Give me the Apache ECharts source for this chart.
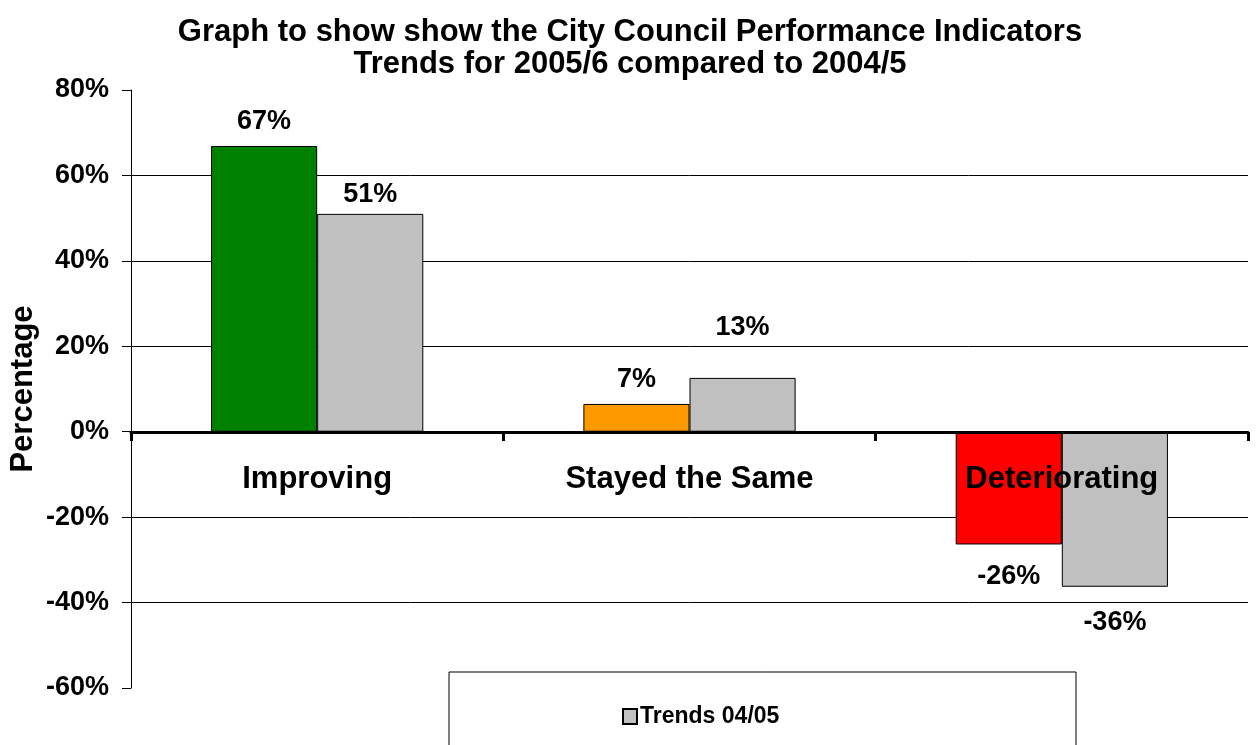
<!DOCTYPE html>
<html>
<head>
<meta charset="utf-8">
<title>City Council Performance Indicators</title>
<script src="https://cdn.jsdelivr.net/npm/echarts@6/dist/echarts.min.js"></script>
<style>
  html, body { margin: 0; padding: 0; background: #fff; }
  #chart { width: 1260px; height: 745px; }
</style>
</head>
<body>
<div id="chart"></div>
<script>
// data (percent)
const categories = ['Improving', 'Stayed the Same', 'Deteriorating'];
const trends0506 = [66.9, 6.5, -26.4];
const trends0405 = [51.0, 12.6, -36.3];
const yTicks = { min: -60, max: 80, interval: 20 };

// bar colours for the 05/06 series, one per category
const colours0506 = ['#008000', '#FF9900', '#FF0000'];
// how far each value label sits from its bar end (Excel labels were nudged by hand)
const gap0506 = [11, 11, 19];
const gap0405 = [6, 37, 22];

const font = 'Arial, "Liberation Sans", sans-serif';
const chart = echarts.init(document.getElementById('chart'));

function makeData(values, gaps, colours) {
  return values.map((v, i) => {
    const item = {
      value: v,
      label: { position: v < 0 ? 'bottom' : 'top', distance: gaps[i] }
    };
    if (colours) item.itemStyle = { color: colours[i] };
    return item;
  });
}

const valueLabel = {
  show: true,
  formatter: p => Math.round(p.value) + '%',
  fontFamily: font,
  fontWeight: 'bold',
  fontSize: 27,
  color: '#000'
};

const option = {
  backgroundColor: '#fff',
  animation: false,
  title: {
    text: 'Graph to show show the City Council Performance Indicators\nTrends for 2005/6 compared to 2004/5',
    left: 'center',
    top: 16,
    padding: 0,
    textStyle: {
      fontFamily: font,
      fontWeight: 'bold',
      fontSize: 31,
      lineHeight: 32,
      color: '#000'
    }
  },
  grid: { left: 131, right: 12, top: 90, bottom: 57, outerBoundsMode: 'none' },
  // legend frame, cut off by the bottom edge like the original
  graphic: [{
    type: 'rect',
    shape: { x: 449, y: 672, width: 627, height: 120 },
    style: { fill: '#fff', stroke: '#000', lineWidth: 1 },
    z: 10
  }],
  legend: {
    data: ['Trends 04/05'],
    left: 617,
    top: 700,
    icon: 'rect',
    itemWidth: 14,
    itemHeight: 15,
    itemGap: 10,
    z: 11,
    textStyle: { fontFamily: font, fontWeight: 'bold', fontSize: 23, color: '#000', padding: [0, 0, 0, -2] }
  },
  xAxis: {
    type: 'category',
    data: categories,
    z: 5,
    // the category axis sits on the 0% line; move it up from the grid bottom
    offset: -256,
    axisLine: { onZero: false, lineStyle: { color: '#000', width: 3 } },
    axisTick: { show: true, length: 9, lineStyle: { color: '#000', width: 3 } },
    axisLabel: {
      margin: 32,
      fontFamily: font,
      fontWeight: 'bold',
      fontSize: 31,
      color: '#000'
    }
  },
  yAxis: {
    type: 'value',
    min: yTicks.min,
    max: yTicks.max,
    interval: yTicks.interval,
    name: 'Percentage',
    nameLocation: 'middle',
    nameGap: 92,
    nameMoveOverlap: false,
    nameTextStyle: { fontFamily: font, fontWeight: 'bold', fontSize: 31, color: '#000' },
    axisLine: { show: true, lineStyle: { color: '#000', width: 1 } },
    axisTick: { show: true, length: 9, lineStyle: { color: '#000', width: 1 } },
    axisLabel: {
      margin: 22,
      formatter: '{value}%',
      fontFamily: font,
      fontWeight: 'bold',
      fontSize: 27,
      color: '#000'
    },
    splitLine: {
      show: true,
      showMinLine: false,
      showMaxLine: false,
      lineStyle: { color: '#000', width: 1 }
    }
  },
  series: [
    {
      name: 'Trends 05/06',
      type: 'bar',
      barWidth: '28.5%',
      barGap: '0%',
      itemStyle: { borderColor: '#000', borderWidth: 1 },
      label: valueLabel,
      data: makeData(trends0506, gap0506, colours0506)
    },
    {
      name: 'Trends 04/05',
      type: 'bar',
      barWidth: '28.5%',
      barGap: '0%',
      itemStyle: { color: '#C0C0C0', borderColor: '#000', borderWidth: 1 },
      label: valueLabel,
      data: makeData(trends0405, gap0405)
    }
  ]
};

chart.setOption(option);
</script>
</body>
</html>
